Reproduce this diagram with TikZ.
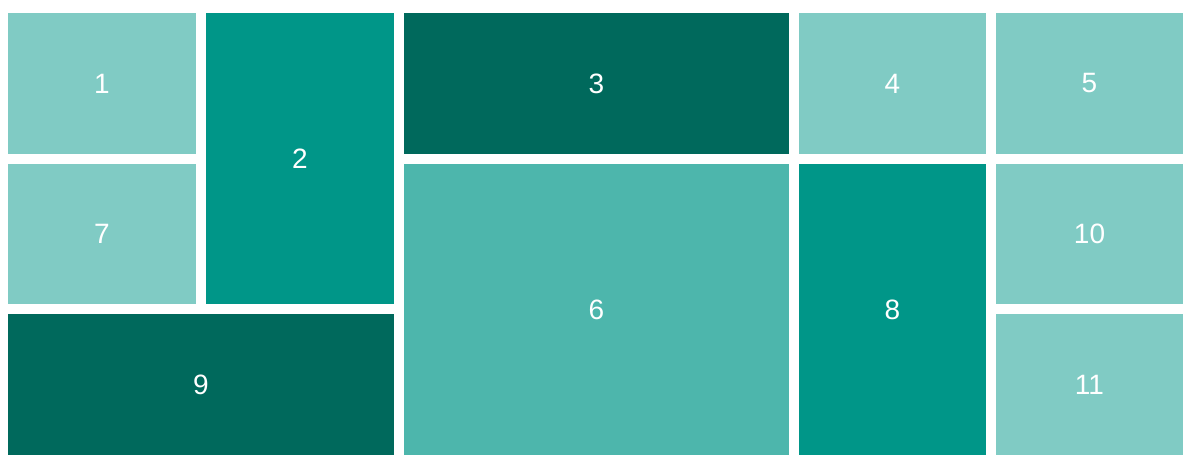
\documentclass[tikz,border=0pt]{standalone}
\usepackage{fontspec}
\setmainfont{Liberation Sans}
\definecolor{tlight}{HTML}{80CBC4}
\definecolor{tmid}{HTML}{4DB6AC}
\definecolor{tbase}{HTML}{009688}
\definecolor{tdark}{HTML}{00695C}
\tikzset{
  tile/.style={rectangle, anchor=north west, inner sep=0pt, outer sep=0pt,
    text=white, font=\fontsize{28}{30}\selectfont},
}
\newcommand{\tileat}[6]{% name, x1, y1, x2, y2, color ; label = name
  \node[tile, fill=#6, minimum width={(#4-#2)*1pt}, minimum height={(#5-#3)*1pt}] (t#1) at (#2,#3) {#1};}
\begin{document}
\begin{tikzpicture}[x=1pt,y=-1pt]
\useasboundingbox (0,0) rectangle (1183,468);
\fill[white] (0,0) rectangle (1183,468);
\tileat{1}{8}{13}{196}{154}{tlight}
\tileat{2}{206}{13}{394}{304}{tbase}
\tileat{3}{404}{13}{789}{154}{tdark}
\tileat{4}{799}{13}{986}{154}{tlight}
\tileat{5}{996}{13}{1183}{154}{tlight}
\tileat{7}{8}{164}{196}{304}{tlight}
\tileat{6}{404}{164}{789}{455}{tmid}
\tileat{8}{799}{164}{986}{455}{tbase}
\tileat{10}{996}{164}{1183}{304}{tlight}
\tileat{9}{8}{314}{394}{455}{tdark}
\tileat{11}{996}{314}{1183}{455}{tlight}
\end{tikzpicture}
\end{document}
